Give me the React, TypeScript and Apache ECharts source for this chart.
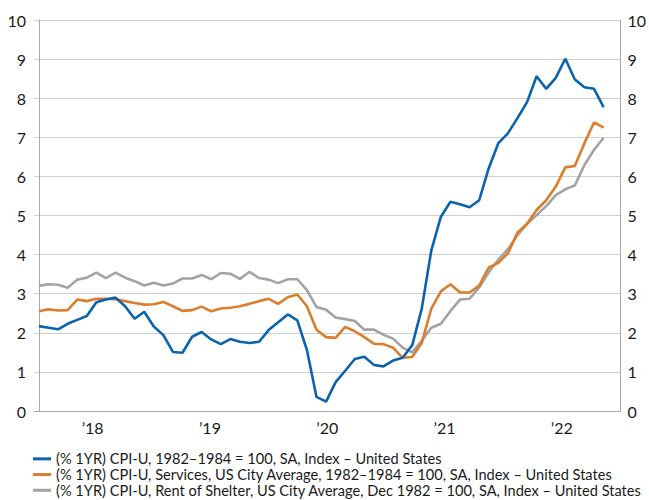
import React, { useEffect, useRef } from "react";
import * as echarts from "echarts";

const yearLabels = ["\u201918", "\u201919", "\u201920", "\u201921", "\u201922"];

const seriesNames = [
  "(% 1YR) CPI-U, 1982\u20131984 = 100, SA, Index \u2013 United States",
  "(% 1YR) CPI-U, Services, US City Average, 1982\u20131984 = 100, SA, Index \u2013 United States",
  "(% 1YR) CPI-U, Rent of Shelter, US City Average, Dec 1982 = 100, SA, Index \u2013 United States",
];

// Monthly, Nov 2017 .. Oct 2022
const cpiAll = [2.17, 2.13, 2.09, 2.23, 2.33, 2.43, 2.78, 2.85, 2.9, 2.68, 2.36, 2.54, 2.16, 1.94, 1.51, 1.49, 1.9, 2.02, 1.83, 1.71, 1.84, 1.77, 1.74, 1.77, 2.07, 2.27, 2.47, 2.32, 1.56, 0.36, 0.24, 0.74, 1.03, 1.33, 1.39, 1.18, 1.14, 1.29, 1.36, 1.68, 2.62, 4.11, 4.97, 5.35, 5.29, 5.21, 5.39, 6.21, 6.85, 7.1, 7.49, 7.9, 8.56, 8.24, 8.52, 9.01, 8.48, 8.28, 8.24, 7.77];
const cpiServices = [2.55, 2.6, 2.57, 2.58, 2.85, 2.81, 2.87, 2.87, 2.86, 2.81, 2.76, 2.72, 2.73, 2.79, 2.68, 2.56, 2.58, 2.67, 2.55, 2.62, 2.64, 2.68, 2.74, 2.81, 2.87, 2.74, 2.91, 2.98, 2.68, 2.08, 1.89, 1.87, 2.15, 2.04, 1.89, 1.72, 1.71, 1.62, 1.36, 1.38, 1.74, 2.62, 3.06, 3.24, 3.03, 3.03, 3.21, 3.67, 3.79, 4.03, 4.56, 4.79, 5.14, 5.39, 5.74, 6.23, 6.27, 6.85, 7.38, 7.25];
const cpiShelter = [3.2, 3.24, 3.23, 3.15, 3.36, 3.41, 3.54, 3.4, 3.54, 3.41, 3.32, 3.21, 3.28, 3.21, 3.26, 3.39, 3.39, 3.48, 3.37, 3.53, 3.51, 3.38, 3.56, 3.4, 3.36, 3.27, 3.37, 3.37, 3.09, 2.66, 2.59, 2.39, 2.35, 2.3, 2.08, 2.08, 1.95, 1.85, 1.62, 1.5, 1.8, 2.13, 2.23, 2.56, 2.85, 2.87, 3.16, 3.55, 3.87, 4.14, 4.5, 4.78, 5.01, 5.24, 5.52, 5.67, 5.77, 6.29, 6.68, 6.99];

const colors = ["#0a63ae", "#dc7d2c", "#a3a3a3"];
const FONT = "Lato";

export default function App() {
  const ref = useRef<HTMLDivElement>(null);
  useEffect(() => {
    document.body.style.margin = "0";
    const chart = echarts.init(ref.current!, null, { renderer: "svg" });
    const toPairs = (arr: number[]) => arr.map((v, i) => [i, v]);
    const yCommon = {
      type: "value",
      min: 0,
      max: 10,
      interval: 1,
      axisLine: { show: true, lineStyle: { color: "#a8a8a8", width: 1 } },
      axisTick: { show: false },
      axisLabel: { color: "#1a1a1a", fontSize: 16, fontFamily: FONT },
    };
    chart.setOption({
      animation: false,
      textStyle: { fontFamily: FONT },
      grid: { left: 34, right: 23, top: 20, bottom: 89 },
      xAxis: [
        {
          type: "value",
          min: -0.518,
          max: 60.76,
          show: false,
        },
        {
          type: "category",
          data: yearLabels,
          boundaryGap: true,
          position: "bottom",
          axisLine: { show: true, lineStyle: { color: "#a8a8a8", width: 1 } },
          axisTick: { show: false },
          axisLabel: { color: "#1a1a1a", fontSize: 16, fontFamily: FONT, margin: 8 },
          splitLine: { show: false },
        },
      ],
      yAxis: [
        {
          ...yCommon,
          position: "left",
          axisLabel: { ...yCommon.axisLabel, margin: 8 },
          splitLine: { show: true, lineStyle: { color: "#d0d0d0", width: 1.2 } },
        },
        {
          ...yCommon,
          position: "right",
          axisLabel: { ...yCommon.axisLabel, margin: 7 },
          splitLine: { show: false },
        },
      ],
      legend: {
        orient: "vertical",
        left: 33,
        top: 451,
        padding: 0,
        height: 60,
        itemWidth: 18,
        itemHeight: 3,
        itemGap: 0,
        icon: "rect",
        textStyle: { fontSize: 14.6, color: "#1a1a1a", fontFamily: FONT, lineHeight: 15.7 },
        data: seriesNames,
      },
      series: [cpiAll, cpiServices, cpiShelter].map((arr, k) => ({
        name: seriesNames[k],
        type: "line",
        xAxisIndex: 0,
        yAxisIndex: 0,
        data: toPairs(arr),
        showSymbol: false,
        symbol: "none",
        lineStyle: { color: colors[k], width: 2.6 },
        itemStyle: { color: colors[k] },
        z: 10 - k,
      })),
    });
    return () => chart.dispose();
  }, []);
  return <div ref={ref} style={{ width: 649, height: 500 }} />;
}
